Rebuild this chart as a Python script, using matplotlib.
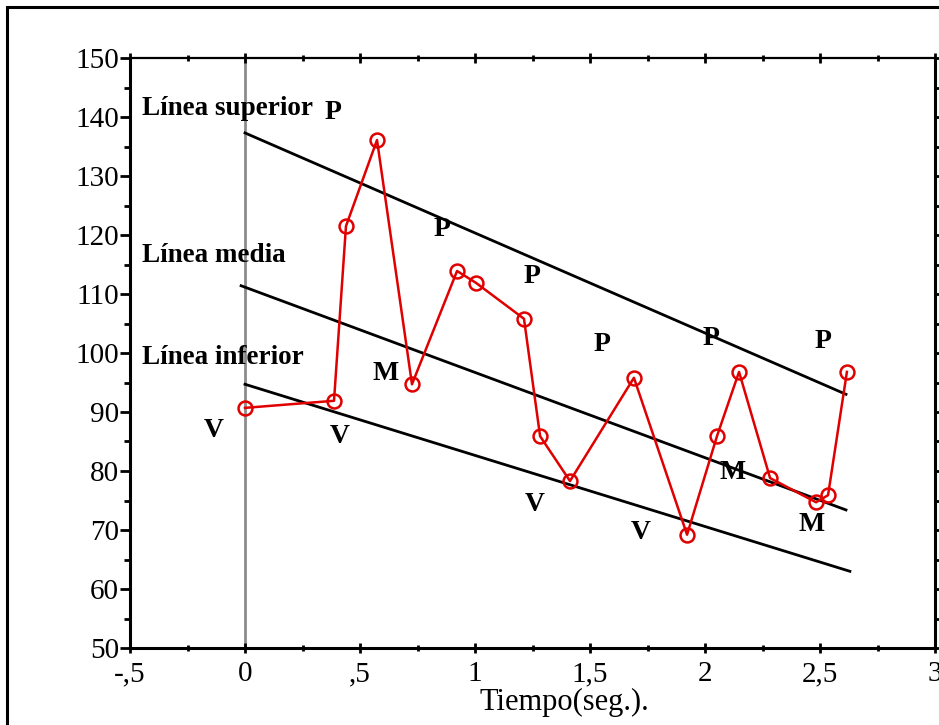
import matplotlib.pyplot as plt
from matplotlib.patches import Rectangle
from matplotlib.ticker import MultipleLocator

# Serie de presión (tiempo en seg., valor)
tiempo = [0.0, 0.387, 0.439, 0.574, 0.726, 0.922, 1.004, 1.213, 1.283, 1.413,
          1.691, 1.922, 2.052, 2.148, 2.283, 2.483, 2.535, 2.617]
valor = [90.7, 91.9, 121.5, 136.1, 94.7, 113.9, 111.9, 105.8, 85.9, 78.3,
         95.8, 69.2, 85.9, 96.8, 78.8, 74.7, 75.9, 96.8]

# Rectas de tendencia: (x0, x1), (y0, y1)
sup_x, sup_y = [0.0, 2.613], [137.3, 93.0]
med_x, med_y = [-0.017, 2.613], [111.4, 73.4]
inf_x, inf_y = [0.0, 2.63], [94.7, 63.0]

rectas_txt = ["Línea superior", "Línea media", "Línea inferior"]
rectas_pos = [(-0.45, 141.5), (-0.45, 116.6), (-0.45, 99.2)]

letras = ["P", "P", "P", "P", "P", "P", "M", "M", "M", "V", "V", "V", "V"]
letras_x = [0.383, 0.857, 1.248, 1.552, 2.026, 2.513, 0.613, 2.122, 2.465,
            -0.135, 0.413, 1.261, 1.722]
letras_y = [140.8, 121.0, 112.9, 101.5, 102.4, 102.0, 96.6, 79.7, 71.0,
            86.9, 85.9, 74.4, 69.5]

xticks = [-0.5, 0, 0.5, 1, 1.5, 2, 2.5, 3]
xticklabels = ["-,5", "0", ",5", "1", "1,5", "2", "2,5", "3"]
yticks = [50, 60, 70, 80, 90, 100, 110, 120, 130, 140, 150]

plt.rcParams["font.family"] = ["Liberation Serif", "DejaVu Serif"]

fig = plt.figure(figsize=(9.39, 7.25), dpi=100)
fig.patches.append(Rectangle((7 / 939, -0.2), 1.2, 1 - 7 / 725 + 0.2,
                             transform=fig.transFigure, fill=False,
                             edgecolor="black", linewidth=2.2))
ax = fig.add_axes([130 / 939, 77 / 725, 805 / 939, 590 / 725])

ax.axvline(0, color="#8c8c8c", linewidth=2, zorder=1)

for xs, ys in [(sup_x, sup_y), (med_x, med_y), (inf_x, inf_y)]:
    ax.plot(xs, ys, color="black", linewidth=2, zorder=2)

ax.plot(tiempo, valor, color="#e00000", linewidth=1.8, marker="o",
        markersize=10, markerfacecolor="none", markeredgecolor="#e00000",
        markeredgewidth=1.8, zorder=3)

for txt, (x, y) in zip(rectas_txt, rectas_pos):
    ax.text(x, y, txt, fontsize=19.5, fontweight="bold", ha="left", va="center")

for txt, x, y in zip(letras, letras_x, letras_y):
    ax.text(x, y, txt, fontsize=20, fontweight="bold", ha="center", va="center")

ax.set_xlim(-0.5, 3)
ax.set_ylim(50, 150)
ax.set_xticks(xticks)
ax.set_xticklabels(xticklabels)
ax.set_yticks(yticks)
ax.xaxis.set_minor_locator(MultipleLocator(0.25))
ax.yaxis.set_minor_locator(MultipleLocator(5))
ax.tick_params(which="major", direction="out", length=7, width=2,
               labelsize=21, pad=1, top=True, right=True)
ax.tick_params(which="minor", direction="out", length=4, width=2,
               top=True, right=True)
ax.tick_params(axis="x", which="both", direction="inout", pad=6)

for side in ["left", "bottom", "right"]:
    ax.spines[side].set_linewidth(2.2)
ax.spines["top"].set_linewidth(1.6)

ax.set_xlabel("Tiempo(seg.).", fontsize=22)
ax.xaxis.set_label_coords(0.54, -0.068)

fig.savefig("out.png", dpi=100)
